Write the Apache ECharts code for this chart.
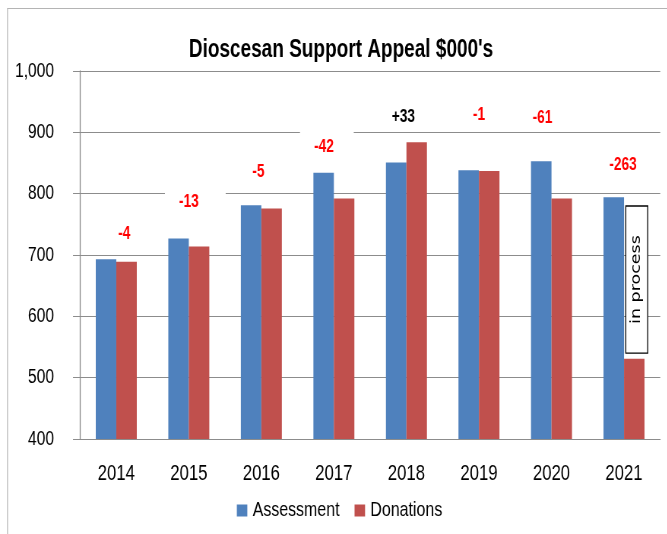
<!DOCTYPE html>
<html>
<head>
<meta charset="utf-8">
<script src="https://cdn.jsdelivr.net/npm/echarts@6/dist/echarts.min.js"></script>
<style>
  html, body { margin: 0; padding: 0; background: #fff; overflow: hidden; }
  #chart { height: 534px; transform-origin: 0 0; }
</style>
</head>
<body>
<div id="chart"></div>
<script>
const years = ['2014', '2015', '2016', '2017', '2018', '2019', '2020', '2021']
const assessment = [693, 727, 781, 834, 851, 838, 853, 794]
const donations = [689, 714, 776, 792, 884, 837, 792, 531]

// where the difference notes sit (axis units) and a small sideways nudge in px
const noteLevel = [735, 786, 835, 876, 925, 929, 924, 847]
const noteShift = [8, 0, -3, -10, -3, 0, -9, -1]
// notes drawn in a white box that hides the grid line behind them (top, right, bottom, left)
const notePad = { 1: [6, 27, 6, 14], 3: [7, 20, 7, 14] }

// the original picture is squeezed sideways, so draw wide and squeeze the canvas
const SX = 0.76
const W = 667 / SX
const sx = (v) => v / SX
const BAR = 20.5

const FONT = '"Liberation Sans", Arial, sans-serif'
const GRID = '#8c8c8c'

const el = document.getElementById('chart')
el.style.width = W + 'px'
el.style.transform = `scaleX(${SX})`
const chart = echarts.init(el)

// marks on the Donations series sit at its bar centre, half a bar right of the category centre
const notes = years.map((y, i) => {
  const diff = donations[i] - assessment[i]
  const label = {
    offset: [sx(noteShift[i] - BAR / 2), 0],
    color: diff < 0 ? '#ff0000' : '#000',
  }
  const p = notePad[i]
  if (p) {
    label.backgroundColor = '#fff'
    label.padding = [p[0], sx(p[1]), p[2], sx(p[3])]
    label.offset[0] += sx((p[1] - p[3]) / 2)
  }
  return {
    name: (diff > 0 ? '+' : '') + diff,
    coord: [y, noteLevel[i]],
    label,
  }
})

const option = {
  animation: false,
  title: {
    text: "Dioscesan Support Appeal $000's",
    left: sx(185),
    top: 33,
    textStyle: { fontFamily: FONT, fontSize: 25, fontWeight: 'bold', color: '#000' },
  },
  legend: {
    data: ['Assessment', 'Donations'],
    left: sx(233),
    top: 495,
    icon: 'rect',
    itemWidth: sx(10.5),
    itemHeight: 12,
    itemGap: sx(15),
    textStyle: { fontFamily: FONT, fontSize: 21, color: '#000', padding: [0, 0, 0, 2] },
  },
  grid: { left: sx(80), right: sx(7), top: 71, bottom: 95 },
  xAxis: {
    type: 'category',
    data: years,
    axisLine: { lineStyle: { color: GRID } },
    axisTick: { length: 9, lineStyle: { color: GRID, width: sx(1) } },
    axisLabel: { fontFamily: FONT, fontSize: 22, color: '#000', margin: 24 },
  },
  yAxis: {
    type: 'value',
    min: 400,
    max: 1000,
    interval: 100,
    axisLine: { show: true, lineStyle: { color: GRID, width: sx(1) } },
    axisTick: { show: true, length: sx(7), lineStyle: { color: GRID } },
    axisLabel: {
      fontFamily: FONT,
      fontSize: 20.5,
      color: '#000',
      margin: sx(26),
      formatter: (v) => v.toLocaleString('en-US'),
    },
    splitLine: { lineStyle: { color: GRID } },
  },
  series: [
    {
      name: 'Assessment',
      type: 'bar',
      barWidth: sx(BAR),
      barGap: '0%',
      data: assessment,
      itemStyle: { color: '#4f81bd' },
    },
    {
      name: 'Donations',
      type: 'bar',
      barWidth: sx(BAR),
      data: donations,
      itemStyle: { color: '#c0504d' },
      markPoint: {
        symbol: 'rect',
        symbolSize: 1,
        itemStyle: { color: 'transparent' },
        silent: true,
        label: {
          show: true,
          position: 'inside',
          formatter: '{b}',
          fontFamily: FONT,
          fontSize: 18,
          fontWeight: 'bold',
        },
        data: notes.concat([
          {
            name: 'in process',
            coord: ['2021', 660],
            label: {
              rotate: 90,
              offset: [0, sx(2.5)],
              fontFamily: '"DejaVu Sans", Verdana, sans-serif',
              fontWeight: 'normal',
              fontSize: 17.5,
              lineHeight: 18,
              color: '#000',
              backgroundColor: '#fff',
              borderColor: '#000',
              borderWidth: 1.3,
              padding: [4.8, 28.5],
            },
          },
        ]),
      },
    },
  ],
  graphic: [
    {
      type: 'rect',
      shape: { x: sx(7.5), y: 8.5, width: W, height: 560 },
      style: { fill: 'none', stroke: '#b4b4b4', lineWidth: 1.2 },
      silent: true,
    },
  ],
}

chart.setOption(option)
</script>
</body>
</html>
